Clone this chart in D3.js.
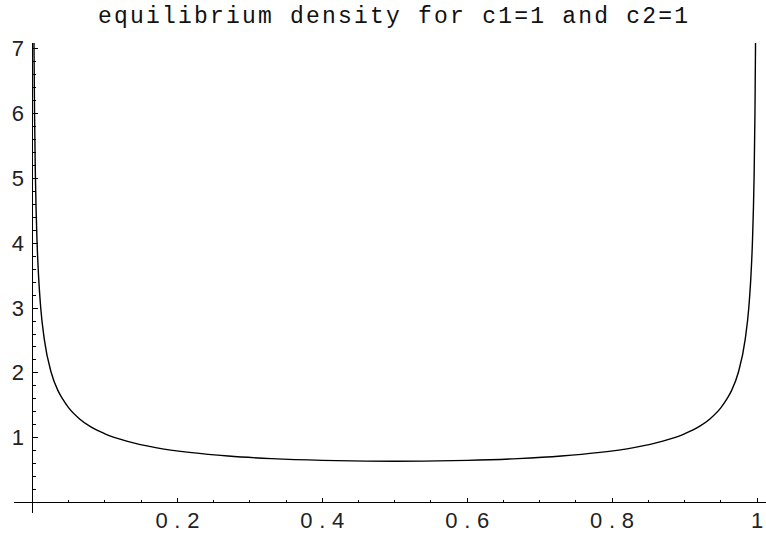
<!DOCTYPE html>
<meta charset="utf-8">
<script src="https://cdnjs.cloudflare.com/ajax/libs/d3/7.8.5/d3.min.js"></script>
<style>
body { margin: 0; background: #fff; }
.curve { fill: none; stroke: #000; stroke-width: 1.4px; }
.axis line { stroke: #000; stroke-width: 1px; shape-rendering: crispEdges; }
.tick-label { font-family: "Liberation Sans", Arial, sans-serif; font-size: 22px; fill: #222; }
.title { font-family: "Liberation Mono", "Courier New", monospace; font-size: 23px; fill: #111; }
</style>
<body>
<script>

// values
var xs = [0.002, 0.0028, 0.004, 0.0063, 0.0085, 0.0113, 0.0164, 0.0257, 0.035, 0.042,
          0.05, 0.065, 0.08, 0.1, 0.13, 0.17, 0.22, 0.27, 0.33, 0.4, 0.46, 0.5,
          0.54, 0.6, 0.67, 0.73, 0.78, 0.83, 0.87, 0.9, 0.92, 0.935, 0.95,
          0.958, 0.965, 0.9743, 0.9836, 0.9887, 0.9915, 0.9937, 0.996, 0.9972, 0.998];
var ys = [7.12, 6.02, 5.04, 4.02, 3.47, 3.01, 2.51, 2.01, 1.73, 1.59,
          1.46, 1.29, 1.17, 1.06, 0.947, 0.847, 0.769, 0.717, 0.677, 0.65, 0.639, 0.637,
          0.639, 0.65, 0.677, 0.717, 0.769, 0.847, 0.947, 1.06, 1.17, 1.29, 1.46,
          1.59, 1.73, 2.01, 2.51, 3.01, 3.47, 4.02, 5.04, 6.02, 7.12];

var xMajor = [0.2, 0.4, 0.6, 0.8, 1];
var xLabels = ["0.2", "0.4", "0.6", "0.8", "1"];
var yMajor = [1, 2, 3, 4, 5, 6, 7];
var yLabels = ["1", "2", "3", "4", "5", "6", "7"];

var title = "equilibrium density for c1=1 and c2=1";

var width = 766,
    height = 539;

var x = d3.scaleLinear().domain([0, 1]).range([32.5, 757]);
var y = d3.scaleLinear().domain([0, 1]).range([502.5, 437.7]);

var svg = d3.select("body").append("svg")
    .attr("width", width)
    .attr("height", height);

svg.append("defs").append("clipPath")
    .attr("id", "plot")
  .append("rect")
    .attr("x", 0).attr("y", 43)
    .attr("width", width).attr("height", 480);

svg.append("text")
    .attr("class", "title")
    .attr("x", 98)
    .attr("y", 23)
    .attr("textLength", 590)
    .attr("lengthAdjust", "spacing")
    .text(title);

// axes
var axis = svg.append("g").attr("class", "axis");

axis.append("line")
    .attr("x1", 14).attr("x2", 766)
    .attr("y1", y(0)).attr("y2", y(0));
axis.append("line")
    .attr("x1", x(0)).attr("x2", x(0))
    .attr("y1", 43).attr("y2", 513);

var xMinor = d3.range(1, 21).map(function(i) { return i * 0.05; });
axis.selectAll(".xt")
    .data(xMinor)
  .enter().append("line")
    .attr("x1", function(d) { return x(d); })
    .attr("x2", function(d) { return x(d); })
    .attr("y1", y(0))
    .attr("y2", function(d, i) { return y(0) - ((i + 1) % 4 === 0 ? 5 : 3); });

var yMinor = d3.range(1, 36).map(function(i) { return i * 0.2; });
axis.selectAll(".yt")
    .data(yMinor)
  .enter().append("line")
    .attr("y1", function(d) { return y(d); })
    .attr("y2", function(d) { return y(d); })
    .attr("x1", x(0))
    .attr("x2", function(d, i) { return x(0) + ((i + 1) % 5 === 0 ? 5 : 3); });

svg.selectAll(".xl")
    .data(xMajor)
  .enter().append("text")
    .attr("class", "tick-label")
    .attr("x", function(d, i) { return x(d) - (xLabels[i].length === 1 ? 6 : 22); })
    .attr("y", 528)
    .attr("textLength", function(d, i) { return xLabels[i].length === 1 ? null : 44; })
    .attr("lengthAdjust", "spacing")
    .text(function(d, i) { return xLabels[i]; });

svg.selectAll(".yl")
    .data(yMajor)
  .enter().append("text")
    .attr("class", "tick-label")
    .attr("x", 24)
    .attr("y", function(d) { return y(d) + 7.5; })
    .attr("text-anchor", "end")
    .text(function(d, i) { return yLabels[i]; });

// curve
var pts = xs.map(function(d, i) { return [d, ys[i]]; });
var line = d3.line()
    .x(function(d) { return x(d[0]); })
    .y(function(d) { return y(d[1]); })
    .curve(d3.curveMonotoneX);

svg.append("path")
    .datum(pts)
    .attr("class", "curve")
    .attr("clip-path", "url(#plot)")
    .attr("d", line);

</script>
